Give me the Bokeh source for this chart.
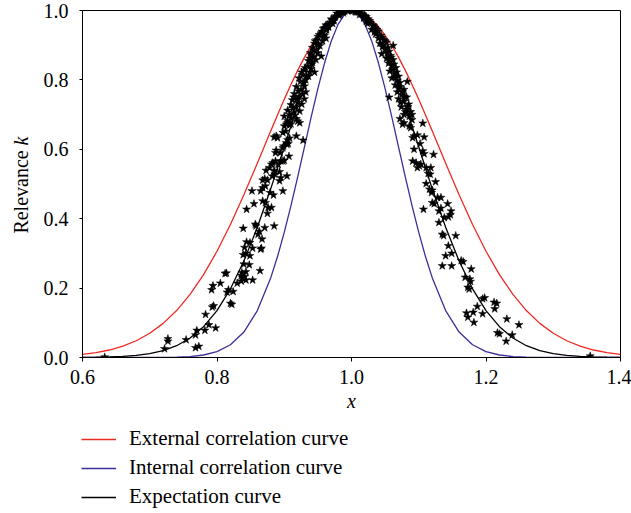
from bokeh.plotting import figure
from bokeh.models import Range1d, Legend, LegendItem, FixedTicker
from bokeh.layouts import column, row
from bokeh.core.properties import value
from bokeh.embed import file_html
from bokeh.resources import INLINE
import math

# ---- data ----
curve_x = [0.60, 0.62, 0.64, 0.66, 0.68, 0.70, 0.72, 0.74, 0.76, 0.78, 0.80, 0.82, 0.84, 0.86, 0.88,
           0.89, 0.90, 0.91, 0.92, 0.93, 0.94, 0.95, 0.96, 0.97, 0.98, 0.99, 1.00,
           1.01, 1.02, 1.03, 1.04, 1.05, 1.06, 1.07, 1.08, 1.09, 1.10, 1.11,
           1.12, 1.14, 1.16, 1.18, 1.20, 1.22, 1.24, 1.26, 1.28, 1.30, 1.32, 1.34, 1.36, 1.38, 1.40]

external_y = [0.0088, 0.0139, 0.0216, 0.0327, 0.0483, 0.0698, 0.0983, 0.1353, 0.1819, 0.2388, 0.3062, 0.3834, 0.4689, 0.5600, 0.6531,
              0.6991, 0.7439, 0.7869, 0.8275, 0.8650, 0.8990, 0.9287, 0.9538, 0.9737, 0.9882, 0.9970, 1.0,
              0.9970, 0.9882, 0.9737, 0.9538, 0.9287, 0.8990, 0.8650, 0.8275, 0.7869, 0.7439, 0.6991,
              0.6531, 0.5600, 0.4689, 0.3834, 0.3062, 0.2388, 0.1819, 0.1353, 0.0983, 0.0698, 0.0483, 0.0327, 0.0216, 0.0139, 0.0088]

internal_y = [0.0, 0.0, 0.0, 0.0, 0.0, 0.0001, 0.0003, 0.0010, 0.0028, 0.0072, 0.0169, 0.0367, 0.0734, 0.1353, 0.2301,
              0.2909, 0.3604, 0.4376, 0.5204, 0.6065, 0.6926, 0.7748, 0.8493, 0.9123, 0.9600, 0.9898, 1.0,
              0.9898, 0.9600, 0.9123, 0.8493, 0.7748, 0.6926, 0.6065, 0.5204, 0.4376, 0.3604, 0.2909,
              0.2301, 0.1353, 0.0734, 0.0367, 0.0169, 0.0072, 0.0028, 0.0010, 0.0003, 0.0001, 0.0, 0.0, 0.0, 0.0, 0.0]

expect_y = [0.0003, 0.0007, 0.0015, 0.0031, 0.0060, 0.0111, 0.0198, 0.0340, 0.0561, 0.0889, 0.1353, 0.1979, 0.2780, 0.3753, 0.4868,
            0.5461, 0.6065, 0.6670, 0.7261, 0.7827, 0.8353, 0.8825, 0.9231, 0.9560, 0.9802, 0.9950, 1.0,
            0.9950, 0.9802, 0.9560, 0.9231, 0.8825, 0.8353, 0.7827, 0.7261, 0.6670, 0.6065, 0.5461,
            0.4868, 0.3753, 0.2780, 0.1979, 0.1353, 0.0889, 0.0561, 0.0340, 0.0198, 0.0111, 0.0060, 0.0031, 0.0015, 0.0007, 0.0003]

drops = [
    # left, low
    (0.633, 0.001), (0.722, 0.025), (0.727, 0.054), (0.727, 0.047), (0.754, 0.051), (0.768, 0.065),
    (0.770, 0.078), (0.768, 0.028), (0.773, 0.032), (0.782, 0.078), (0.783, 0.124), (0.788, 0.094),
    (0.798, 0.085), (0.793, 0.145), (0.795, 0.149), (0.792, 0.195), (0.794, 0.207), (0.805, 0.214),
    (0.812, 0.242), (0.814, 0.243), (0.817, 0.195), (0.815, 0.188), (0.824, 0.190), (0.820, 0.156),
    (0.822, 0.153), (0.830, 0.214), (0.836, 0.236), (0.837, 0.245), (0.836, 0.220), (0.838, 0.230),
    (0.843, 0.223), (0.841, 0.233), (0.853, 0.223), (0.843, 0.247), (0.864, 0.250), (0.840, 0.269),
    (0.848, 0.267), (0.839, 0.296), (0.843, 0.300), (0.849, 0.293), (0.841, 0.317), (0.853, 0.315),
    (0.866, 0.315), (0.849, 0.331), (0.844, 0.333),
    # left, middle
    (0.839, 0.372), (0.844, 0.427), (0.852, 0.480), (0.855, 0.443), (0.858, 0.379), (0.861, 0.355),
    (0.863, 0.363), (0.865, 0.312), (0.867, 0.341), (0.857, 0.384), (0.865, 0.480), (0.868, 0.489),
    (0.872, 0.494), (0.868, 0.451), (0.872, 0.446), (0.876, 0.432), (0.881, 0.432), (0.875, 0.415),
    (0.871, 0.374), (0.885, 0.379), (0.879, 0.475), (0.884, 0.468), (0.898, 0.480),
    (0.868, 0.511), (0.871, 0.515), (0.875, 0.511), (0.882, 0.523), (0.893, 0.509), (0.895, 0.518),
    (0.904, 0.523), (0.873, 0.539), (0.878, 0.547), (0.885, 0.539), (0.886, 0.528), (0.893, 0.535),
    (0.881, 0.557), (0.883, 0.561), (0.887, 0.566), (0.891, 0.556), (0.895, 0.566), (0.898, 0.566),
    (0.900, 0.568), (0.907, 0.580), (0.887, 0.590), (0.888, 0.597), (0.894, 0.590), (0.898, 0.604),
    (0.899, 0.609), (0.885, 0.635), (0.888, 0.638), (0.890, 0.633), (0.903, 0.619), (0.904, 0.614),
    (0.906, 0.616), (0.905, 0.627), (0.908, 0.632), (0.918, 0.638), (0.928, 0.626), (0.900, 0.667),
    (0.903, 0.672), (0.905, 0.676), (0.908, 0.670), (0.910, 0.673), (0.920, 0.681), (0.923, 0.676),
    (0.898, 0.648), (0.902, 0.652),
    # left, upper band
    (0.985, 0.995), (0.990, 0.998), (0.978, 0.992), (0.982, 0.985), (0.975, 0.980), (0.994, 0.999),
    (0.970, 0.975), (0.968, 0.965), (0.962, 0.958), (0.972, 0.962), (0.966, 0.952), (0.958, 0.948),
    (0.974, 0.970), (0.963, 0.944), (0.955, 0.935), (0.950, 0.925), (0.960, 0.928), (0.948, 0.915),
    (0.957, 0.912), (0.945, 0.905), (0.953, 0.898), (0.962, 0.920), (0.944, 0.885), (0.940, 0.872),
    (0.950, 0.878), (0.938, 0.862), (0.947, 0.858), (0.955, 0.868), (0.942, 0.850), (0.935, 0.840),
    (0.930, 0.828), (0.940, 0.832), (0.927, 0.815), (0.936, 0.810), (0.945, 0.822), (0.922, 0.805),
    (0.932, 0.800), (0.928, 0.790), (0.918, 0.780), (0.925, 0.772), (0.932, 0.765), (0.915, 0.760),
    (0.922, 0.752), (0.930, 0.745), (0.912, 0.742), (0.920, 0.735), (0.910, 0.728), (0.918, 0.722),
    (0.905, 0.712), (0.914, 0.705), (0.923, 0.710), (0.900, 0.695), (0.910, 0.690), (0.918, 0.688),
    (0.905, 0.682),
    (0.988, 0.997), (0.983, 0.990), (0.976, 0.984), (0.971, 0.972), (0.965, 0.960), (0.960, 0.950),
    (0.956, 0.940), (0.952, 0.930), (0.958, 0.922), (0.946, 0.912), (0.951, 0.902), (0.942, 0.893),
    (0.948, 0.887), (0.939, 0.878), (0.944, 0.866), (0.936, 0.855), (0.941, 0.845), (0.931, 0.835),
    (0.938, 0.822), (0.926, 0.822), (0.933, 0.812), (0.924, 0.795), (0.930, 0.782), (0.921, 0.768),
    (0.927, 0.758), (0.914, 0.750), (0.919, 0.745), (0.926, 0.730), (0.913, 0.718), (0.908, 0.700),
    (0.916, 0.698),
    # peak
    (0.996, 1.000), (1.000, 1.000), (1.002, 0.999), (0.988, 0.993), (1.008, 0.996), (0.980, 0.990),
    (1.022, 0.982),
    # right, upper band
    (1.005, 0.998), (1.010, 0.995), (1.015, 0.990), (1.020, 0.985), (1.012, 0.988), (1.025, 0.975),
    (1.018, 0.978), (1.028, 0.965), (1.032, 0.958), (1.024, 0.962), (1.035, 0.950), (1.030, 0.945),
    (1.040, 0.940), (1.036, 0.932), (1.044, 0.928), (1.040, 0.920), (1.048, 0.915), (1.042, 0.905),
    (1.052, 0.908), (1.046, 0.895), (1.050, 0.888), (1.056, 0.882), (1.045, 0.875), (1.058, 0.870),
    (1.052, 0.862), (1.062, 0.858), (1.055, 0.848), (1.060, 0.840), (1.066, 0.835), (1.057, 0.825),
    (1.064, 0.818), (1.070, 0.810), (1.060, 0.805), (1.068, 0.798), (1.065, 0.785), (1.072, 0.780),
    (1.078, 0.772), (1.068, 0.765), (1.075, 0.758), (1.082, 0.750), (1.070, 0.745), (1.078, 0.738),
    (1.085, 0.730), (1.074, 0.722), (1.082, 0.715), (1.088, 0.708), (1.078, 0.700), (1.086, 0.695),
    (1.072, 0.688), (1.090, 0.685), (1.062, 0.899), (1.083, 0.795), (1.056, 0.750), (1.106, 0.675),
    (1.006, 0.996), (1.014, 0.993), (1.019, 0.982), (1.027, 0.970), (1.022, 0.968), (1.033, 0.955),
    (1.038, 0.945), (1.034, 0.938), (1.045, 0.922), (1.050, 0.912), (1.047, 0.900), (1.054, 0.893),
    (1.053, 0.877), (1.059, 0.865), (1.057, 0.852), (1.063, 0.845), (1.061, 0.830), (1.067, 0.822),
    (1.066, 0.808), (1.072, 0.792), (1.070, 0.775), (1.076, 0.765), (1.079, 0.752), (1.073, 0.735),
    (1.084, 0.722), (1.080, 0.708), (1.090, 0.700),
    # right, middle
    (1.076, 0.672), (1.078, 0.676), (1.086, 0.667), (1.088, 0.662), (1.091, 0.633), (1.093, 0.638),
    (1.098, 0.641), (1.108, 0.635), (1.102, 0.616), (1.093, 0.600), (1.106, 0.595), (1.108, 0.587),
    (1.122, 0.585), (1.091, 0.566), (1.096, 0.561), (1.098, 0.547), (1.101, 0.552), (1.103, 0.557),
    (1.111, 0.547), (1.118, 0.547), (1.114, 0.530), (1.117, 0.528), (1.125, 0.506), (1.111, 0.501),
    (1.116, 0.485), (1.119, 0.475), (1.120, 0.482), (1.133, 0.461), (1.128, 0.461), (1.120, 0.446),
    (1.123, 0.443), (1.143, 0.443), (1.107, 0.427), (1.130, 0.422), (1.133, 0.430), (1.148, 0.422),
    (1.138, 0.403), (1.144, 0.405), (1.147, 0.411), (1.130, 0.389), (1.135, 0.355), (1.137, 0.351),
    (1.155, 0.351), (1.144, 0.322),
    # right, low
    (1.140, 0.293), (1.149, 0.300), (1.135, 0.264), (1.149, 0.264), (1.163, 0.279), (1.166, 0.276),
    (1.178, 0.255), (1.169, 0.231), (1.176, 0.226), (1.177, 0.219), (1.173, 0.202), (1.175, 0.197),
    (1.195, 0.169), (1.198, 0.172), (1.187, 0.147), (1.212, 0.159), (1.216, 0.156), (1.213, 0.140),
    (1.195, 0.126), (1.171, 0.128), (1.173, 0.116), (1.181, 0.130), (1.182, 0.101), (1.231, 0.111),
    (1.249, 0.094), (1.217, 0.071), (1.220, 0.068), (1.239, 0.065), (1.230, 0.047), (1.355, 0.004),
]
drop_x = [d[0] for d in drops]
drop_y = [d[1] for d in drops]

x_ticks = [0.6, 0.8, 1.0, 1.2, 1.4]
y_ticks = [0.0, 0.2, 0.4, 0.6, 0.8, 1.0]
legend_labels = ["External correlation curve", "Internal correlation curve", "Expectation curve"]
y_title_parts = ["Relevance", "k"]

FONT = "Liberation Serif"
RED = "#ee2a24"
BLUE = "#3a2f9a"
TOP_H = 420
LEFT_W = 40
FRAME_TOP = 10
FRAME_BOTTOM = 357

# ---- main plot ----
p = figure(width=631 - LEFT_W, height=TOP_H, output_backend="svg", toolbar_location=None,
           x_range=Range1d(0.6, 1.4), y_range=Range1d(0.0, 1.0),
           min_border_left=81 - LEFT_W, min_border_right=11,
           min_border_top=FRAME_TOP, min_border_bottom=TOP_H - FRAME_BOTTOM)
p.background_fill_color = "white"
p.border_fill_color = "white"
p.outline_line_color = "black"
p.outline_line_width = 1
p.xgrid.visible = False
p.ygrid.visible = False

p.line(curve_x, external_y, line_color=RED, line_width=1.3)
p.line(curve_x, internal_y, line_color=BLUE, line_width=1.3)
p.line(curve_x, expect_y, line_color="black", line_width=1.3)
p.scatter(drop_x, drop_y, marker="star", size=8.5, fill_color="black", line_color="black", line_width=0.5)

p.xaxis.ticker = FixedTicker(ticks=x_ticks)
p.yaxis.ticker = FixedTicker(ticks=y_ticks)
p.xaxis.major_label_overrides = {t: f"{t:.1f}" for t in x_ticks}
p.yaxis.major_label_overrides = {t: f"{t:.1f}" for t in y_ticks}
for ax in (p.xaxis[0], p.yaxis[0]):
    ax.axis_line_color = "black"
    ax.major_tick_line_color = "black"
    ax.minor_tick_line_color = None
    ax.major_label_text_font = FONT
    ax.major_label_text_font_size = "20px"
    ax.major_label_text_color = "black"
    ax.axis_label_text_font = FONT
    ax.axis_label_text_font_size = "20px"
    ax.axis_label_text_color = "black"
p.xaxis.major_tick_in = 0
p.xaxis.major_tick_out = 4
p.xaxis.major_label_standoff = 8
p.xaxis.axis_label = "x"
p.xaxis.axis_label_text_font_style = "italic"
p.xaxis.axis_label_standoff = 3
p.yaxis.major_tick_in = 0
p.yaxis.major_tick_out = 3
p.yaxis.major_label_standoff = 11

# ---- y-axis title strip (shares the main plot's y scale) ----
ylab = figure(width=LEFT_W, height=TOP_H, output_backend="svg", toolbar_location=None,
              x_range=Range1d(0, LEFT_W), y_range=p.y_range,
              x_axis_location=None, y_axis_location=None,
              min_border_left=0, min_border_right=0,
              min_border_top=FRAME_TOP, min_border_bottom=TOP_H - FRAME_BOTTOM)
ylab.grid.visible = False
ylab.outline_line_color = None
ylab.text(x=[20], y=[0.357], text=[y_title_parts[0]], angle=math.pi / 2,
          text_font=value(FONT), text_font_size="20px", text_color="black",
          text_align="left", text_baseline="alphabetic")
ylab.text(x=[20], y=[0.611], text=[y_title_parts[1]], angle=math.pi / 2,
          text_font=value(FONT), text_font_size="20px", text_font_style="italic", text_color="black",
          text_align="left", text_baseline="alphabetic")

# ---- legend strip ----
LEG_H = 513 - TOP_H
leg = figure(width=631, height=LEG_H, output_backend="svg", toolbar_location=None,
             x_range=Range1d(10, 11), y_range=Range1d(10, 11),
             x_axis_location=None, y_axis_location=None,
             min_border_left=0, min_border_right=0, min_border_top=0, min_border_bottom=0)
leg.grid.visible = False
leg.outline_line_color = None
# the curves themselves, out of this strip's view, only feed the legend glyphs
l1 = leg.line(curve_x, external_y, line_color=RED, line_width=1.3)
l2 = leg.line(curve_x, internal_y, line_color=BLUE, line_width=1.3)
l3 = leg.line(curve_x, expect_y, line_color="black", line_width=1.3)
legend = Legend(items=[LegendItem(label=legend_labels[0], renderers=[l1]),
                       LegendItem(label=legend_labels[1], renderers=[l2]),
                       LegendItem(label=legend_labels[2], renderers=[l3])],
                location=(81, 4), orientation="vertical",
                glyph_width=35, glyph_height=20, label_height=20, label_standoff=13,
                spacing=4, padding=0, margin=0,
                label_text_font=FONT, label_text_font_size="21px", label_text_color="black",
                border_line_alpha=0, background_fill_alpha=0)
leg.add_layout(legend)

layout = column(row(ylab, p), leg)
open("out.html", "w").write(file_html(layout, INLINE))
